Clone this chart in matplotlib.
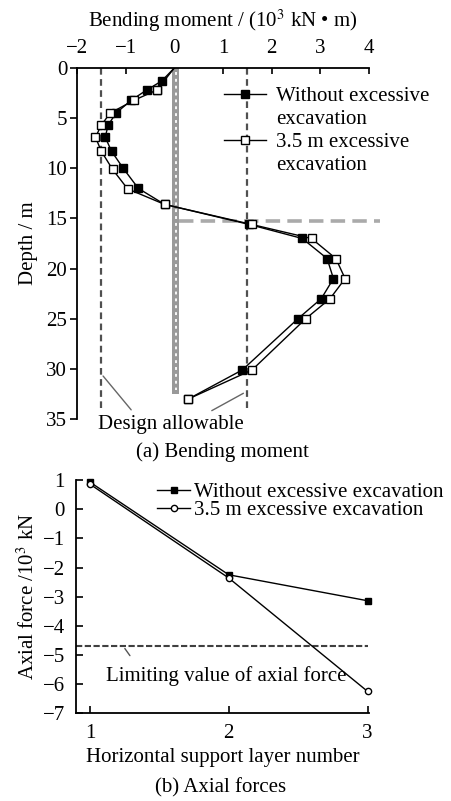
import numpy as np
import matplotlib.pyplot as plt
from matplotlib.lines import Line2D

plt.rcParams['font.family'] = ['Liberation Serif', 'DejaVu Serif']
plt.rcParams['mathtext.fontset'] = 'stix'

# (a) bending moment along the pile, 10^3 kN*m vs depth (m)
depth_a = [0.0, 1.3, 2.2, 3.2, 4.5, 5.7, 6.9, 8.3, 10.0, 12.0, 13.6, 15.6, 17.0, 19.0, 21.0, 23.0, 25.0, 30.1, 33.0]
depth_b = [0.0, 2.2, 2.2, 3.2, 4.5, 5.7, 6.9, 8.3, 10.1, 12.05, 13.6, 15.6, 17.0, 19.0, 21.0, 23.0, 25.0, 30.1, 33.0]
moment_no = [0.0, -0.26, -0.57, -0.88, -1.20, -1.36, -1.42, -1.29, -1.05, -0.74, -0.20, 1.54, 2.63, 3.14, 3.27, 3.02, 2.54, 1.40, 0.29]
moment_ex = [0.0, -0.36, -0.36, -0.82, -1.32, -1.50, -1.62, -1.50, -1.27, -0.96, -0.20, 1.59, 2.82, 3.32, 3.51, 3.20, 2.70, 1.60, 0.29]
allow_moment = 1.5
excav_depth = 15.3
pile_x = (-0.05, 0.10)
pile_len = 32.5

# (b) axial force in the horizontal supports, 10^3 kN
layers = [1, 2, 3]
axial_no = [0.93, -2.25, -3.14]
axial_ex = [0.86, -2.36, -6.25]
axial_limit = -4.7

fs = 15
fig = plt.figure(figsize=(4.51, 8.01), dpi=100)

# ---------- (a) ----------
ax = fig.add_axes([0.1707, 0.4769, 0.6474, 0.4382])
ax.set_xlim(-2, 4)
ax.set_ylim(35, 0)
ax.xaxis.tick_top()
ax.xaxis.set_label_position('top')
ax.spines['right'].set_visible(False)
ax.spines['bottom'].set_visible(False)
ax.set_xticks(np.arange(-2, 5, 1))
ax.set_yticks(np.arange(0, 36, 5))
ax.tick_params(axis='x', direction='in', length=4, width=1.2, labelsize=fs, pad=7)
ax.tick_params(axis='y', direction='out', length=5, width=1.2, labelsize=fs, pad=2)
for s in ['top', 'left']:
    ax.spines[s].set_linewidth(1.3)
ax.set_xlabel('Bending moment / (10$^3$ kN • m)', fontsize=fs, labelpad=9)
ax.set_ylabel('Depth / m', fontsize=fs, labelpad=6)

# pile (grey bar with white dots)
ax.fill_betweenx([0, pile_len], pile_x[0], pile_x[1], color='#999999', lw=0, zorder=2)
ax.plot([sum(pile_x) / 2] * 2, [0.4, pile_len - 0.4], color='white', lw=1.3,
        linestyle=(0, (1.6, 2.2)), zorder=2)

# design allowable lines
for v in (-allow_moment, allow_moment):
    ax.plot([v, v], [0, 34.2], color='#505050', lw=1.6, linestyle=(0, (3, 2)), zorder=1)
# excavation level
ax.plot([pile_x[1], 4.22], [excav_depth, excav_depth], color='#aaaaaa', lw=2.6,
        linestyle=(0, (4, 2)), clip_on=False, zorder=1)

ax.plot(moment_no, depth_a, color='black', lw=1.0, marker='s', ms=5.5, markevery=slice(1, None),
        mfc='black', mec='black', zorder=4)
ax.plot(moment_ex, depth_b, color='black', lw=1.0, marker='s', ms=5.5, markevery=slice(1, None),
        mfc='white', mec='black', mew=1.0, zorder=5)

ax.text(-0.07, 35.5, 'Design allowable', fontsize=fs, ha='center', va='center')
ax.annotate('', xy=(-allow_moment, 30.5), xytext=(-0.85, 34.3),
            arrowprops=dict(arrowstyle='-', color='#666666', lw=1.0), annotation_clip=False)
ax.annotate('', xy=(allow_moment - 0.03, 32.3), xytext=(0.72, 34.3),
            arrowprops=dict(arrowstyle='-', color='#666666', lw=1.0), annotation_clip=False)

blank = Line2D([], [], color='none')
h1 = Line2D([], [], color='black', lw=1.0, marker='s', ms=5.5, mfc='black', mec='black')
h2 = Line2D([], [], color='black', lw=1.0, marker='s', ms=5.5, mfc='white', mec='black')
ax.legend([h1, blank, h2, blank],
          ['Without excessive', 'excavation', '3.5 m excessive', 'excavation'],
          loc='upper left', bbox_to_anchor=(0.503, 0.948), frameon=False, fontsize=fs,
          handlelength=2.0, handletextpad=0.5, labelspacing=0.17,
          borderpad=0, borderaxespad=0)

fig.text(0.494, 0.436, '(a) Bending moment', fontsize=fs, ha='center', va='center')

# ---------- (b) ----------
bx = fig.add_axes([0.1685, 0.1095, 0.6497, 0.2912])
bx.set_xlim(0.9, 3.01)
bx.set_ylim(-7, 1)
bx.spines['top'].set_visible(False)
bx.spines['right'].set_visible(False)
for s in ['left', 'bottom']:
    bx.spines[s].set_linewidth(1.3)
bx.set_xticks(layers)
bx.set_yticks(np.arange(-7, 2, 1))
bx.tick_params(direction='in', length=5, width=1.2, labelsize=fs)
bx.tick_params(axis='y', pad=8)
bx.tick_params(axis='x', pad=8)
bx.set_xlabel('Horizontal support layer number', fontsize=fs, labelpad=3)
bx.set_ylabel('Axial force /10$^3$ kN', fontsize=fs, labelpad=3)

bx.axhline(axial_limit, xmin=0, xmax=0.995, color='#404040', lw=1.5, linestyle=(0, (3, 1.2)))
bx.plot(layers, axial_no, color='black', lw=1.0, marker='s', ms=4, mfc='black', mec='black',
        label='Without excessive excavation', clip_on=False)
bx.plot(layers, axial_ex, color='black', lw=1.0, marker='o', ms=4.5, mfc='white', mec='black',
        label='3.5 m excessive excavation', clip_on=False)
bx.text(1.98, -5.73, 'Limiting value of axial force', fontsize=fs, ha='center', va='center')
bx.annotate('', xy=(1.24, axial_limit), xytext=(1.30, -5.1),
            arrowprops=dict(arrowstyle='-', color='#555555', lw=1.0))
bx.legend(loc='upper left', bbox_to_anchor=(0.276, 0.99), frameon=False, fontsize=fs,
          handlelength=1.6, handletextpad=0.2, labelspacing=-0.05, borderpad=0, borderaxespad=0)

fig.text(0.49, 0.0162, '(b) Axial forces', fontsize=fs, ha='center', va='center')

fig.savefig('out.png', dpi=100)
